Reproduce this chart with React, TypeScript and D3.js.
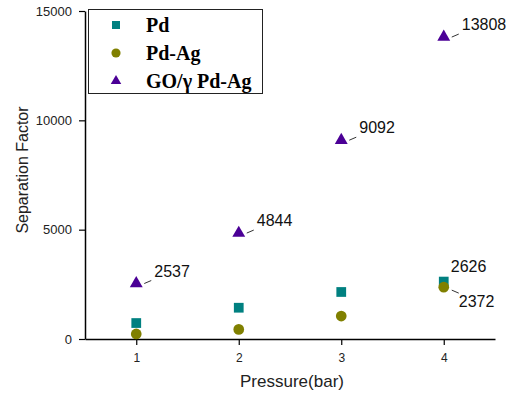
import React, { useEffect, useRef } from 'react';
import * as d3 from 'd3';

const pressures = [1, 2, 3, 4];
const pdValues = [730, 1430, 2150, 2626];
const pdAgValues = [230, 440, 1050, 2372];
const goValues = [2537, 4844, 9092, 13808];
const yTicks = [0, 5000, 10000, 15000];
const xTicks = [1, 2, 3, 4];

export default function App() {
  const svgRef = useRef<SVGSVGElement>(null);

  useEffect(() => {
    if (!svgRef.current) return;
    const root = d3.select(svgRef.current);
    root.selectAll('*').remove();

    const width = 513;
    const height = 395;
    const margin = { top: 11, right: 18, bottom: 56, left: 85 };
    const x = d3.scaleLinear().domain([0.5, 4.5]).range([margin.left, width - margin.right]);
    const y = d3.scaleLinear().domain([0, 15000]).range([height - margin.bottom, margin.top]);

    const sans = '"Liberation Sans", Arial, sans-serif';
    const serif = '"Liberation Serif", "Times New Roman", serif';

    // X axis
    const xAxis = root.append('g').attr('transform', `translate(0, ${y(0)})`);
    xAxis.call(d3.axisBottom(x).tickValues([1.5, 2.5, 3.5, 4.5]).tickSize(4).tickFormat(() => ''));
    xAxis.call(d3.axisBottom(x).tickValues(xTicks).tickSize(6).tickSizeOuter(0).tickFormat(d3.format('d')));
    xAxis.selectAll('.domain').attr('stroke', '#000').attr('stroke-width', 1.5);
    xAxis.selectAll('.tick line').attr('stroke', '#000').attr('stroke-width', 1.2);
    xAxis.selectAll('text').attr('fill', '#222').attr('font-size', 12).attr('font-family', sans).attr('dy', '1.2em');

    // Y axis
    const yAxis = root.append('g').attr('transform', `translate(${margin.left}, 0)`);
    yAxis.call(d3.axisLeft(y).tickValues([2500, 7500, 12500]).tickSize(3).tickFormat(() => ''));
    yAxis.call(d3.axisLeft(y).tickValues(yTicks).tickSize(6).tickSizeOuter(0).tickFormat(d3.format('d')));
    yAxis.selectAll('.domain').attr('stroke', '#000').attr('stroke-width', 1.5);
    yAxis.selectAll('.tick line').attr('stroke', '#000').attr('stroke-width', 1.2);
    yAxis.selectAll('text').attr('fill', '#222').attr('font-size', 13).attr('font-family', sans).attr('x', -13);

    // axis titles
    root.append('text')
      .attr('x', 292)
      .attr('y', 387)
      .attr('text-anchor', 'middle')
      .attr('font-family', sans)
      .attr('font-size', 17)
      .attr('fill', '#222')
      .text('Pressure(bar)');
    root.append('text')
      .attr('transform', `translate(28, 170) rotate(-90)`)
      .attr('text-anchor', 'middle')
      .attr('font-family', sans)
      .attr('font-size', 16)
      .attr('fill', '#222')
      .text('Separation Factor');

    const colors = { pd: '#008080', pdAg: '#808000', go: '#4B0096' };
    const sqSym = d3.symbol().type(d3.symbolSquare).size(95);
    const ciSym = d3.symbol().type(d3.symbolCircle).size(90);
    const trSym = d3.symbol().type(d3.symbolTriangle).size(72);

    const plot = (vals: number[], sym: any, color: string) => {
      root.append('g')
        .selectAll('path')
        .data(vals)
        .enter()
        .append('path')
        .attr('d', sym)
        .attr('transform', (d, i) => `translate(${x(pressures[i])}, ${y(d)})`)
        .attr('fill', color);
    };
    plot(pdValues, sqSym, colors.pd);
    plot(pdAgValues, ciSym, colors.pdAg);
    plot(goValues, trSym, colors.go);

    // annotations
    const addLabel = (px: number, val: number, dx: number, dy: number, line: boolean, below = false) => {
      const cx = x(px);
      const cy = y(val);
      if (line) {
        root.append('line')
          .attr('x1', cx + 8)
          .attr('y1', below ? cy + 3 : cy)
          .attr('x2', cx + 15)
          .attr('y2', below ? cy + 6 : cy - 3)
          .attr('stroke', '#333')
          .attr('stroke-width', 1);
      }
      root.append('text')
        .attr('x', cx + dx)
        .attr('y', cy + dy)
        .attr('font-family', sans)
        .attr('font-size', 16)
        .attr('fill', '#111')
        .text(String(val));
    };
    goValues.forEach((v, i) => addLabel(pressures[i], v, 18, -7, true));
    addLabel(4, pdValues[3], 7, -10, false);
    addLabel(4, pdAgValues[3], 15, 20, true, true);

    // Legend
    const lg = root.append('g');
    lg.append('rect')
      .attr('x', 88.5)
      .attr('y', 9.5)
      .attr('width', 174)
      .attr('height', 84)
      .attr('fill', '#fff')
      .attr('stroke', '#222')
      .attr('stroke-width', 1);
    const items = [
      { label: 'Pd', sym: d3.symbol().type(d3.symbolSquare).size(64), color: colors.pd },
      { label: 'Pd-Ag', sym: d3.symbol().type(d3.symbolCircle).size(66), color: colors.pdAg },
      { label: 'GO/\u03b3 Pd-Ag', sym: d3.symbol().type(d3.symbolTriangle).size(48), color: colors.go },
    ];
    items.forEach((it, i) => {
      const cy = 25 + i * 28;
      lg.append('path')
        .attr('d', it.sym)
        .attr('transform', `translate(116, ${cy})`)
        .attr('fill', it.color);
      lg.append('text')
        .attr('x', 146)
        .attr('y', cy + 7)
        .attr('font-family', serif)
        .attr('font-weight', 'bold')
        .attr('font-size', 20)
        .attr('fill', '#000')
        .text(it.label);
    });
  }, []);

  return (
    <svg ref={svgRef} width={513} height={395} style={{ position: 'absolute', left: 0, top: 0, background: '#fff' }} />
  );
}
